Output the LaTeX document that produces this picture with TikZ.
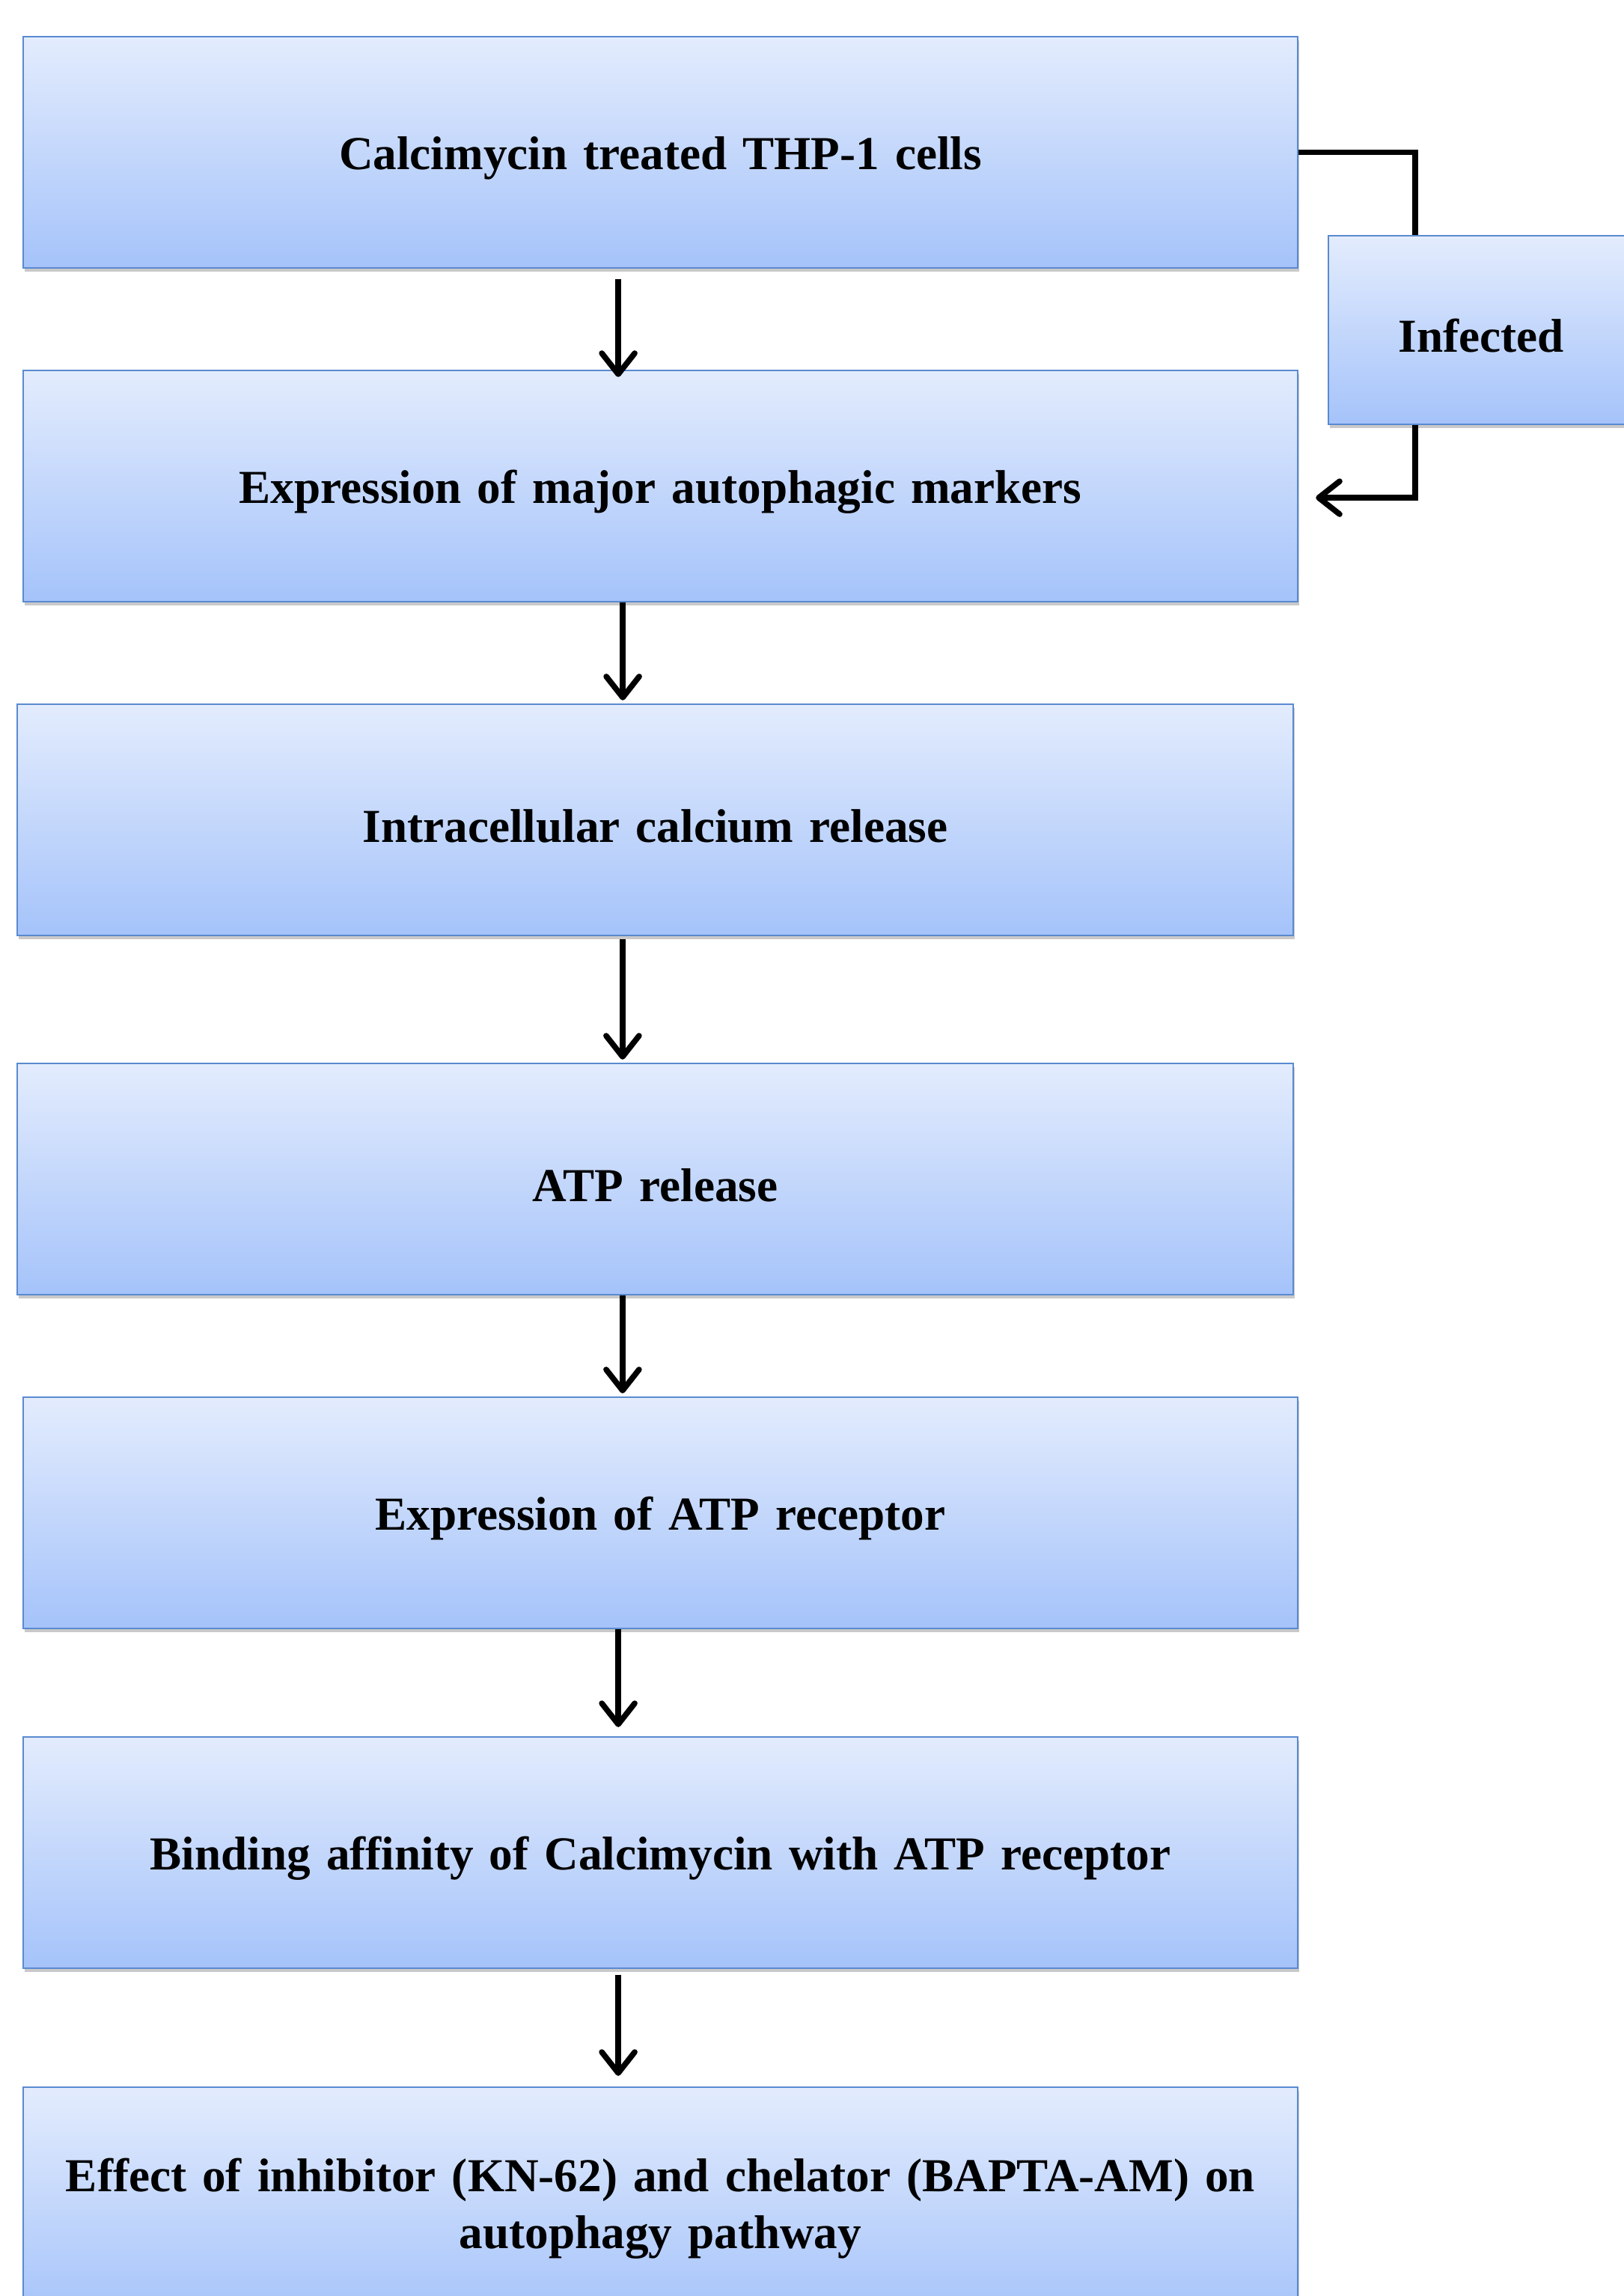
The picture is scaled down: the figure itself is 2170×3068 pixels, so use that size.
\documentclass[tikz,border=0pt]{standalone}
\usepackage{fontspec}
\setmainfont{Liberation Serif}[WordSpace=0.75]
\usepackage{tikz}
\usetikzlibrary{arrows.meta,shadows}

\definecolor{boxtop}{HTML}{E3ECFD}
\definecolor{boxbot}{HTML}{A5C3FA}
\definecolor{boxline}{HTML}{5A8AD0}

\tikzset{
	stepbox/.style={rectangle, draw=boxline, line width=0.6pt, top color=boxtop, bottom color=boxbot,
		minimum width=425.75pt, minimum height=77.25pt, align=center, text width=415pt,
		font=\fontsize{15.8}{19}\selectfont\bfseries,
		execute at begin node=\rule{0pt}{15pt},
		drop shadow={shadow xshift=0.6pt, shadow yshift=-1.2pt, opacity=0.3, fill=black!70}},
	flow/.style={line width=1.9pt, -{Straight Barb[length=7pt,width=11pt,round]}},
	link/.style={line width=1.9pt}
}

\begin{document}
\begin{tikzpicture}[x=0.25pt, y=-0.25pt]
	\useasboundingbox (0,0) rectangle (2170,3068);
	\clip (0,0) rectangle (2170,3068);
	\node (calc) at (882.5,203.5) [stepbox] {Calcimycin treated THP-1 cells};
	\node (markers) at (882.5,649.5) [stepbox] {Expression of major autophagic markers};
	\node (calcium) at (875.5,1095.5) [stepbox, minimum width=426.25pt] {Intracellular calcium release};
	\node (atp) at (875.5,1575.5) [stepbox, minimum width=426.25pt] {ATP release};
	\node (receptor) at (882.5,2021.5) [stepbox] {Expression of ATP receptor};
	\node (binding) at (882.5,2475.5) [stepbox] {Binding affinity of Calcimycin with ATP receptor};
	\node (effect) at (882.5,2943.5) [stepbox] {Effect of inhibitor (KN-62) and chelator (BAPTA-AM) on\\autophagy pathway};
		\node (infected) at (1979,441) [stepbox, minimum width=102pt, minimum height=63pt, text width=95pt,
			execute at begin node=\rule{0pt}{12.5pt}] {Infected};
	\draw[flow] ([xshift=-14.1pt,yshift=-3.5pt]calc.south) -- ([xshift=-14.1pt,yshift=-2.5pt]markers.north);
	\draw[flow] ([xshift=-12.6pt]markers.south) -- ([xshift=-12.6pt,yshift=1pt]markers.south |- calcium.north);
	\draw[flow] ([xshift=-10.9pt,yshift=-1pt]calcium.south) -- ([xshift=-10.9pt,yshift=1pt]atp.north);
	\draw[flow] ([xshift=-10.9pt]atp.south) -- ([xshift=-10.9pt,yshift=1pt]atp.south |- receptor.north);
	\draw[flow] ([xshift=-14.1pt]receptor.south) -- ([xshift=-14.1pt,yshift=3pt]binding.north);
	\draw[flow] ([xshift=-14.1pt,yshift=-2pt]binding.south) -- ([xshift=-14.1pt,yshift=3.5pt]effect.north);
	\draw[link] (calc.east) -| ([xshift=-22pt]infected.north);
	\draw[flow] ([xshift=-22pt]infected.south) |- ([xshift=5.75pt,yshift=-3.9pt]markers.east);
\end{tikzpicture}
\end{document}
